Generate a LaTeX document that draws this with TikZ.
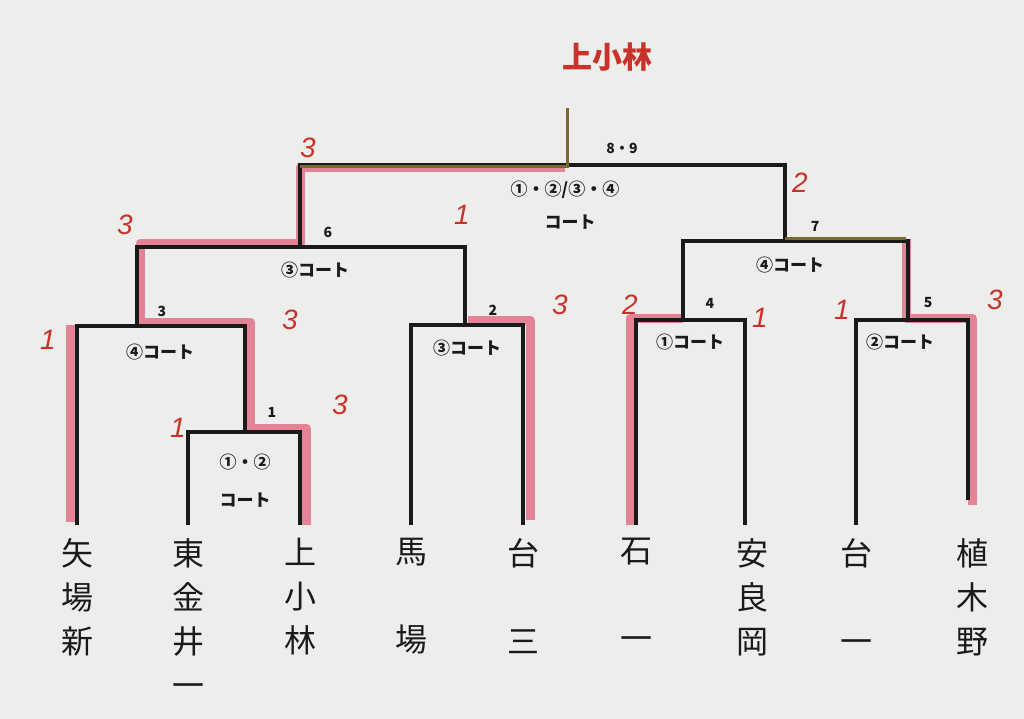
\documentclass[tikz,border=0pt]{standalone}
\usepackage{fontspec}
\newfontfamily\cjk{Noto Sans CJK JP}
\newfontfamily\hand{Liberation Sans}
\definecolor{paper}{HTML}{EDEDEB}
\definecolor{hl}{HTML}{E0607A}
\definecolor{ink}{HTML}{1A1A1A}
\definecolor{rednum}{HTML}{C8322A}
\definecolor{gold}{HTML}{7A6A30}
\begin{document}
\begin{tikzpicture}[x=1pt,y=-1pt,
  br/.style={draw=ink,line width=3.5pt},
  hlmark/.style={draw=hl,line width=9pt,opacity=0.75,line join=round},
  lab/.style={font=\cjk\bfseries\fontsize{17}{17}\selectfont,text=ink},
  num/.style={font=\cjk\bfseries\fontsize{14}{14}\selectfont,text=ink},
  team/.style={font=\cjk\fontsize{32}{44}\selectfont,text=ink,align=center,anchor=north},
  score/.style={font=\hand\itshape\fontsize{28}{28}\selectfont,text=rednum}]
\fill[paper] (0,0) rectangle (1024,719);
\useasboundingbox (0,0) rectangle (1024,719);
% highlight marks
\draw[hlmark] (70,522) -- (70,325);
\draw[hlmark] (306,525) -- (306,428) -- (250,428) -- (250,322) -- (140,322) -- (140,243) -- (300,243) -- (300,168) -- (565,168);
\draw[hlmark] (530,520) -- (530,320) -- (468,320);
\draw[hlmark] (630,525) -- (630,318) -- (683,318);
\draw[hlmark] (972,505) -- (972,318) -- (906,318) -- (906,239);
% bracket
\coordinate (a) at (77,525); \coordinate (b) at (188,525); \coordinate (c) at (300,525);
\coordinate (d) at (411,525); \coordinate (e) at (523,525); \coordinate (f) at (636,525);
\coordinate (g) at (745,525); \coordinate (h) at (856,525); \coordinate (i) at (968,500);
\draw[br] (b) |- (300,432) -- (c);
\draw[br] (a) |- (245,326) -- (245,432);
\draw[br] (d) |- (523,325) -- (e);
\draw[br] (137,326) |- (465,247) -- (465,325);
\draw[br] (f) |- (745,320) -- (g);
\draw[br] (h) |- (968,320) -- (i);
\draw[br] (683,320) |- (908,241) -- (908,320);
\draw[br] (300,247) |- (785,165) -- (785,241);
\draw[draw=gold,line width=3pt] (300,167) -- (567,167) -- (567,108);
\draw[draw=gold,line width=3pt] (785,238) -- (906,238);
% labels
\node[num] (n1) at (272,412) {1};
\node[lab] (l1a) at (245,462) {①・②};
\node[lab] (l1b) at (245,500) {コート};
\node[num] (n3) at (162,311) {3};
\node[lab] (l3) at (160,352) {④コート};
\node[num] (n2) at (493,310) {2};
\node[lab] (l2) at (467,348) {③コート};
\node[num] (n6) at (328,232) {6};
\node[lab] (l6) at (315,270) {③コート};
\node[num] (n4) at (710,303) {4};
\node[lab] (l4) at (690,342) {①コート};
\node[num] (n5) at (928,303) {5};
\node[lab] (l5) at (900,342) {②コート};
\node[num] (n7) at (815,226) {7};
\node[lab] (l7) at (790,265) {④コート};
\node[num] (n8) at (622,148) {8・9};
\node[lab] (lfa) at (565,190) {①・②/③・④};
\node[lab] (lfb) at (570,222) {コート};
\node[font=\cjk\bfseries\fontsize{30}{30}\selectfont,text=rednum] (title) at (607,57) {上小林};
% teams
\node[team] (t1) at (77,535) {矢\\場\\新};
\node[team] (t2) at (188,535) {東\\金\\井\\一};
\node[team] (t3) at (300,535) {上\\小\\林};
\node[team] (t4) at (411,535) {馬\\\\場};
\node[team] (t5) at (523,535) {台\\\\三};
\node[team] (t6) at (636,535) {石\\\\一};
\node[team] (t7) at (752,535) {安\\良\\岡};
\node[team] (t8) at (856,535) {台\\\\一};
\node[team] (t9) at (972,535) {植\\木\\野};
% handwritten scores
\node[score] (s1) at (308,148) {3};
\node[score] (s2) at (800,183) {2};
\node[score] (s3) at (125,225) {3};
\node[score] (s4) at (290,320) {3};
\node[score] (s5) at (340,405) {3};
\node[score] (s6) at (462,215) {1};
\node[score] (s7) at (560,305) {3};
\node[score] (s8) at (630,305) {2};
\node[score] (s9) at (760,318) {1};
\node[score] (s10) at (842,310) {1};
\node[score] (s11) at (995,300) {3};
\node[score] (s12) at (48,340) {1};
\node[score] (s13) at (178,428) {1};
\end{tikzpicture}
\end{document}
